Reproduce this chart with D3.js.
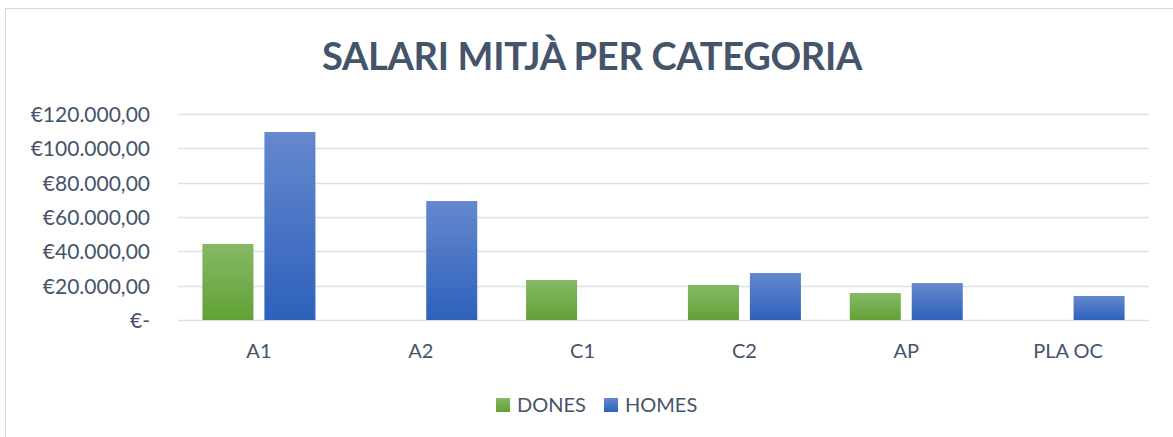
<!DOCTYPE html>
<html>
<head>
<meta charset="utf-8">
<script src="https://cdn.jsdelivr.net/npm/d3@7"></script>
<style>
  html, body { margin: 0; padding: 0; background: #fff; }
  svg { display: block; }
</style>
</head>
<body>
<svg id="chart" width="1173" height="437"></svg>
<script>
const title = "SALARI MITJÀ PER CATEGORIA";
const categories = ["A1", "A2", "C1", "C2", "AP", "PLA OC"];
const seriesNames = ["DONES", "HOMES"];
const dones = [44300, 0, 23300, 20400, 15700, 0];
const homes = [109500, 69300, 0, 27400, 21500, 14000];
const yTicks = [0, 20000, 40000, 60000, 80000, 100000, 120000];
const yTickLabels = ["€-", "€20.000,00", "€40.000,00", "€60.000,00", "€80.000,00", "€100.000,00", "€120.000,00"];

const W = 1173, H = 437;
const margin = { left: 178, right: 24, top: 114, bottom: 117 };
const svg = d3.select("#chart");
const font = "Lato, 'Open Sans', sans-serif";
const textColor = "#44546a";

// chart area border
svg.append("rect").attr("x", 5.5).attr("y", 8.5).attr("width", W + 20).attr("height", H + 20)
  .attr("fill", "#fff").attr("stroke", "#d9d9d9").attr("stroke-width", 1);

const defs = svg.append("defs");
function grad(id, top, bottom) {
  const g = defs.append("linearGradient").attr("id", id).attr("x1", 0).attr("y1", 0).attr("x2", 0).attr("y2", 1);
  g.append("stop").attr("offset", "0%").attr("stop-color", top);
  g.append("stop").attr("offset", "100%").attr("stop-color", bottom);
}
grad("gGreen", "#85b964", "#62a137");
grad("gBlue", "#6588ce", "#2d61bb");
const fills = { DONES: "url(#gGreen)", HOMES: "url(#gBlue)" };

const x0 = d3.scaleBand().domain(categories).range([margin.left, W - margin.right]).paddingInner(0).paddingOuter(0);
const x1 = d3.scaleBand().domain(seriesNames).range([0, x0.bandwidth()]).paddingInner(0.177).paddingOuter(0.394);
const y = d3.scaleLinear().domain([0, 120000]).range([H - margin.bottom, margin.top]);

// gridlines
svg.append("g").selectAll("line").data(yTicks).join("line")
  .attr("x1", margin.left).attr("x2", W - margin.right)
  .attr("y1", d => Math.round(y(d)) + 0.5).attr("y2", d => Math.round(y(d)) + 0.5)
  .attr("stroke", "#dde2e8").attr("stroke-width", 1.5);

// y axis labels
const yAxis = d3.axisLeft(y).tickValues(yTicks).tickSize(0).tickPadding(0)
  .tickFormat((d, i) => yTickLabels[i]);
const yg = svg.append("g").attr("transform", `translate(${margin.left - 28},0)`).call(yAxis);
yg.select(".domain").remove();
yg.selectAll("text").attr("font-family", font).attr("font-size", 21).attr("fill", textColor).attr("dy", "0.36em");

// bars
const data = categories.map((c, i) => ({ cat: c, vals: [{ s: "DONES", v: dones[i] }, { s: "HOMES", v: homes[i] }] }));
const groups = svg.append("g").selectAll("g").data(data).join("g")
  .attr("transform", d => `translate(${x0(d.cat)},0)`);
groups.selectAll("rect").data(d => d.vals.filter(e => e.v > 0)).join("rect")
  .attr("x", d => x1(d.s)).attr("width", x1.bandwidth())
  .attr("y", d => y(d.v)).attr("height", d => y(0) - y(d.v))
  .attr("fill", d => fills[d.s]);

// x axis labels
const xAxis = d3.axisBottom(x0).tickSize(0).tickPadding(0);
const xg = svg.append("g").attr("transform", `translate(0,${y(0)})`).call(xAxis);
xg.select(".domain").remove();
xg.selectAll("text").attr("font-family", font).attr("font-size", 20).attr("fill", textColor)
  .attr("y", 38).attr("dy", 0);

// title
svg.append("text").attr("x", 592).attr("y", 70).attr("text-anchor", "middle")
  .attr("font-family", font).attr("font-weight", "bold").attr("font-size", 38)
  .attr("letter-spacing", -0.3)
  .attr("fill", textColor).text(title);

// legend
const legendItems = [{ s: "DONES", x: 496 }, { s: "HOMES", x: 604 }];
const lg = svg.append("g").selectAll("g").data(seriesNames).join("g")
  .attr("transform", (d, i) => `translate(${legendItems[i].x},398)`);
lg.append("rect").attr("width", 14).attr("height", 14).attr("fill", d => fills[d]);
lg.append("text").attr("x", 21).attr("y", 14).attr("font-family", font).attr("font-size", 20)
  .attr("fill", textColor).text(d => d);
</script>
</body>
</html>
